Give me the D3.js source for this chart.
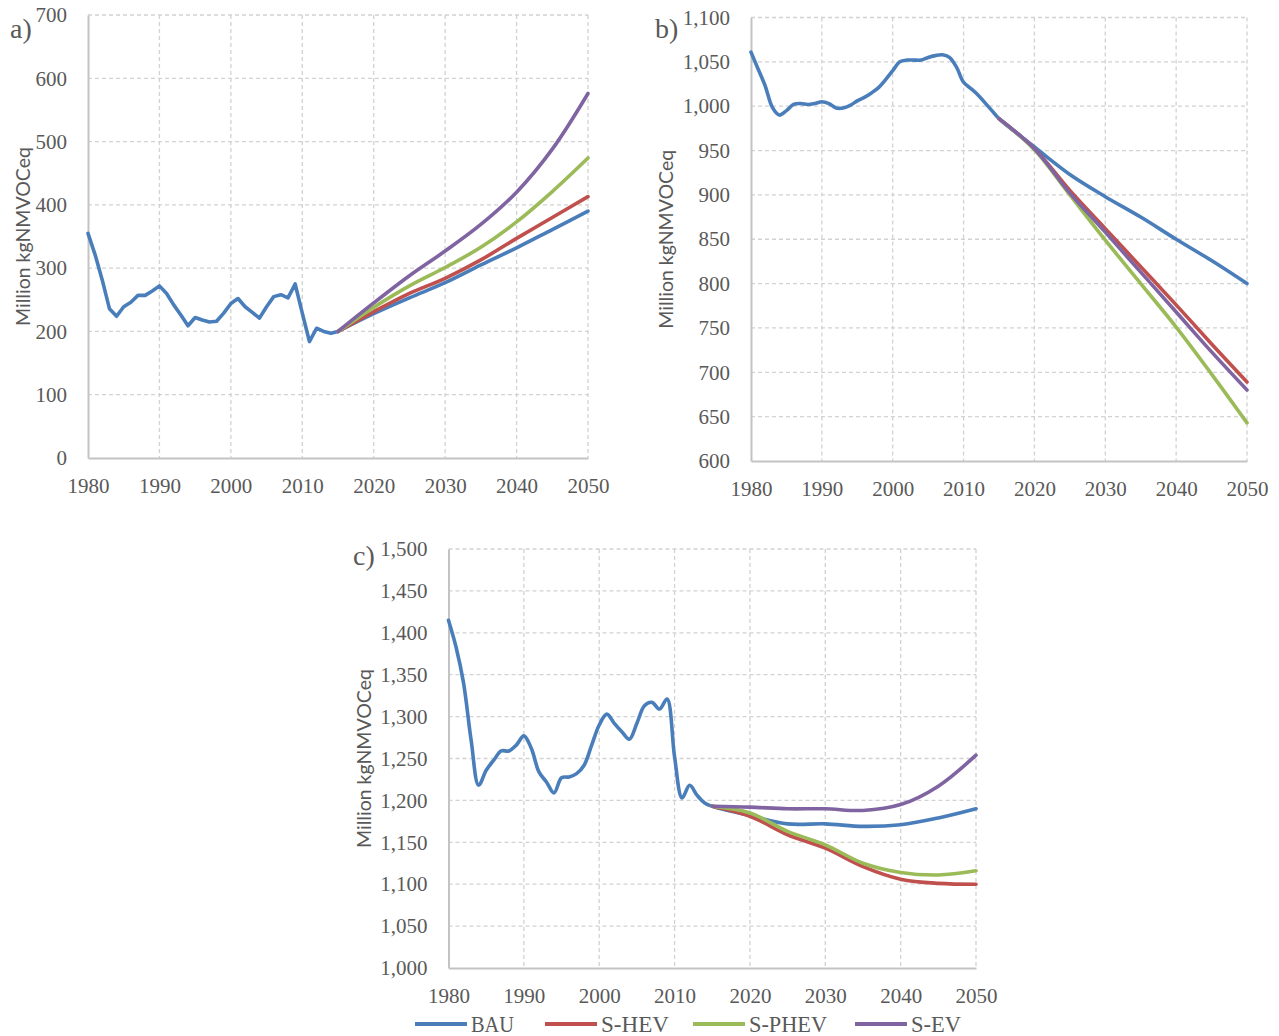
<!DOCTYPE html>
<html>
<head>
<meta charset="utf-8">
<script src="https://cdn.jsdelivr.net/npm/d3@7/dist/d3.min.js"></script>
<style>
  html, body { margin: 0; padding: 0; background: #fff; }
  svg { display: block; }
</style>
</head>
<body>
<svg id="chart" width="1279" height="1036"></svg>
<script>
// ---- Data (Million kgNMVOCeq) ----
const histYears = d3.range(1980, 2016);            // annual history 1980–2015
const projYears = [2015, 2020, 2025, 2030, 2035, 2040, 2045, 2050];
const xTicks = [1980, 1990, 2000, 2010, 2020, 2030, 2040, 2050];
const seriesNames = ["BAU", "S-HEV", "S-PHEV", "S-EV"];

// Panel a
const yTicksA = [0, 100, 200, 300, 400, 500, 600, 700];
const bauHistA = [355, 321, 281, 236, 224, 239, 246, 257, 257, 264, 272, 260, 242, 226, 209, 222, 218, 215,
                  216, 229, 244, 252, 239, 230, 221, 239, 255, 258, 253, 275, 229, 184, 205, 200, 197, 200];
const bauProjA  = [200, 228, 253, 277, 305, 332, 361, 390];
const hevProjA  = [200, 231, 260, 284, 313, 347, 380, 413];
const phevProjA = [200, 238, 272, 301, 333, 373, 421, 474];
const evProjA   = [200, 245, 288, 327, 369, 420, 488, 576];

// Panel b
const yTicksB = [600, 650, 700, 750, 800, 850, 900, 950, 1000, 1050, 1100];
const bauHistB = [1061, 1042, 1023, 999, 990, 995, 1002, 1003, 1002, 1003, 1005, 1003, 998, 998, 1001, 1006,
                  1010, 1015, 1021, 1030, 1040, 1050, 1052, 1052, 1052, 1055, 1057, 1058, 1055, 1044, 1027,
                  1020, 1013, 1004, 995, 986];
const bauProjB  = [986, 954, 923, 898, 875, 850, 826, 800];
const hevProjB  = [986, 952, 905, 862, 819, 776, 732, 689];
const phevProjB = [986, 951, 900, 849, 800, 751, 698, 643];
const evProjB   = [986, 952, 902, 858, 813, 768, 723, 680];

// Panel c
const yTicksC = [1000, 1050, 1100, 1150, 1200, 1250, 1300, 1350, 1400, 1450, 1500];
const bauHistC = [1415, 1383, 1340, 1272, 1218, 1236, 1248, 1259, 1259, 1266, 1277, 1262, 1234, 1222, 1209,
                  1227, 1228, 1232, 1242, 1266, 1290, 1303, 1292, 1282, 1273, 1292, 1313, 1317, 1309, 1321,
                  1252, 1203, 1218, 1206, 1197, 1193];
const bauProjC  = [1193, 1182, 1172, 1172, 1169, 1171, 1179, 1190];
const hevProjC  = [1193, 1181, 1159, 1143, 1121, 1106, 1101, 1100];
const phevProjC = [1193, 1185, 1163, 1147, 1125, 1114, 1111, 1116];
const evProjC   = [1193, 1192, 1190, 1190, 1188, 1195, 1217, 1254];

// ---- Styling ----
const colors = ["#4a7ebb", "#c0504d", "#9bbb59", "#8064a2"];
const textColor = "#595959";
const tickFont = "'Liberation Serif', 'Times New Roman', serif";
const titleFont = "Lato, 'Open Sans', sans-serif";

const svg = d3.select("#chart");

const panels = [
  { label: "a)", hist: bauHistA, proj: [bauProjA, hevProjA, phevProjA, evProjA], yTicks: yTicksA,
    fmt: d3.format("d"), smoothHist: false,
    left: 88, right: 588, top: 15, bottom: 458, titleX: 22, labelX: 10, labelY: 38 },
  { label: "b)", hist: bauHistB, proj: [bauProjB, hevProjB, phevProjB, evProjB], yTicks: yTicksB,
    fmt: d3.format(","), smoothHist: true,
    left: 751, right: 1247, top: 17.5, bottom: 461, titleX: 665, labelX: 655, labelY: 38 },
  { label: "c)", hist: bauHistC, proj: [bauProjC, hevProjC, phevProjC, evProjC], yTicks: yTicksC,
    fmt: d3.format(","), smoothHist: true,
    left: 448.5, right: 976, top: 549, bottom: 968, titleX: 363, labelX: 353, labelY: 565 }
];

function drawPanel(p) {
  const x = d3.scaleLinear().domain([xTicks[0], xTicks[xTicks.length - 1]]).range([p.left, p.right]);
  const y = d3.scaleLinear().domain(d3.extent(p.yTicks)).range([p.bottom, p.top]);
  const g = svg.append("g");

  // dashed gridlines (includes top and right border)
  g.append("g").selectAll("line").data(p.yTicks.slice(1)).join("line")
    .attr("x1", p.left).attr("x2", p.right)
    .attr("y1", d => y(d)).attr("y2", d => y(d))
    .attr("stroke", "#d2d2d2").attr("stroke-width", 1.3).attr("stroke-dasharray", "4,3");
  g.append("g").selectAll("line").data(xTicks.slice(1)).join("line")
    .attr("x1", d => x(d)).attr("x2", d => x(d))
    .attr("y1", p.top).attr("y2", p.bottom)
    .attr("stroke", "#d2d2d2").attr("stroke-width", 1.3).attr("stroke-dasharray", "4,3");

  // axes
  const yAxis = g.append("g").attr("transform", `translate(${p.left},0)`)
    .call(d3.axisLeft(y).tickValues(p.yTicks).tickFormat(p.fmt).tickSize(0).tickSizeOuter(0).tickPadding(21));
  const xAxis = g.append("g").attr("transform", `translate(0,${p.bottom})`)
    .call(d3.axisBottom(x).tickValues(xTicks).tickFormat(d3.format("d")).tickSize(0).tickSizeOuter(0).tickPadding(20));
  [yAxis, xAxis].forEach(ax => {
    ax.select(".domain").attr("stroke", "#c3c3c3").attr("stroke-width", 2);
    ax.selectAll("text").attr("fill", textColor).style("font-family", tickFont).style("font-size", "21px");
  });

  // series lines
  const smooth = d3.curveCatmullRom.alpha(0.5);
  const line = curve => d3.line().x(d => x(d[0])).y(d => y(d[1])).curve(curve);
  const histPts = histYears.map((yr, i) => [yr, p.hist[i]]);
  const projPts = p.proj.map(arr => projYears.map((yr, i) => [yr, arr[i]]));
  const lines = g.append("g").attr("fill", "none").attr("stroke-width", 3.6)
    .attr("stroke-linejoin", "round").attr("stroke-linecap", "round");

  if (p.smoothHist) {
    lines.append("path").attr("stroke", colors[0])
      .attr("d", line(smooth)(histPts.concat(projPts[0].slice(1))));
  } else {
    lines.append("path").attr("stroke", colors[0]).attr("d", line(d3.curveLinear)(histPts));
    lines.append("path").attr("stroke", colors[0]).attr("d", line(smooth)(projPts[0]));
  }
  for (let k = 1; k < projPts.length; k++) {
    lines.append("path").attr("stroke", colors[k]).attr("d", line(smooth)(projPts[k]));
  }

  // axis title
  svg.append("text")
    .attr("transform", `translate(${p.titleX},${(p.top + p.bottom) / 2}) rotate(-90)`)
    .attr("text-anchor", "middle").attr("dominant-baseline", "central")
    .attr("fill", textColor).style("font-family", titleFont).style("font-size", "19.5px")
    .text("Million kgNMVOCeq");

  // panel letter
  svg.append("text").attr("x", p.labelX).attr("y", p.labelY)
    .attr("fill", textColor).style("font-family", tickFont).style("font-size", "28px")
    .text(p.label);
}

panels.forEach(drawPanel);

// legend
const legendX = [415, 545, 693, 855];
const legendW = [43, 68, 78, 50];
const legend = svg.append("g");
seriesNames.forEach((name, i) => {
  legend.append("line")
    .attr("x1", legendX[i]).attr("x2", legendX[i] + 52)
    .attr("y1", 1024).attr("y2", 1024)
    .attr("stroke", colors[i]).attr("stroke-width", 4);
  legend.append("text")
    .attr("x", legendX[i] + 56).attr("y", 1032)
    .attr("textLength", legendW[i]).attr("lengthAdjust", "spacingAndGlyphs")
    .attr("fill", textColor).style("font-family", tickFont).style("font-size", "24px")
    .text(name);
});
</script>
</body>
</html>
